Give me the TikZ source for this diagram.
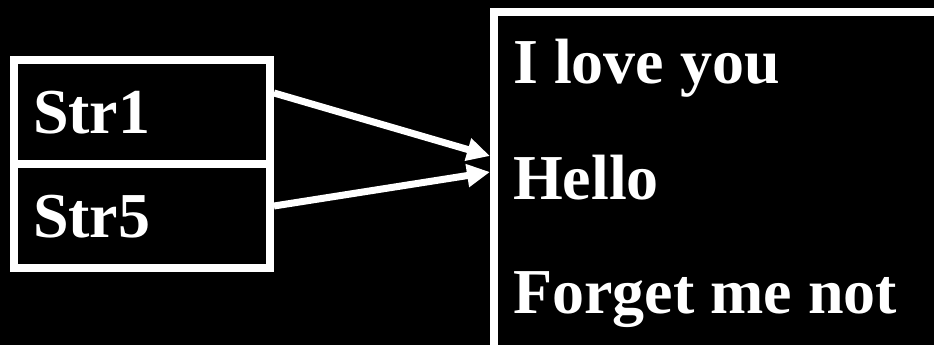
\documentclass[tikz,border=0pt]{standalone}
\usepackage{fontspec}
\setmainfont{Liberation Serif}
\usetikzlibrary{arrows.meta,positioning,calc}
\tikzset{
  box/.style={draw=white, line width=8pt, outer sep=4pt, fill=black, text=white, font=\fontsize{64}{76}\selectfont\bfseries},
  strbox/.style={box, minimum width=256pt, minimum height=103.5pt, text width=218pt, inner xsep=19pt, text height=43pt, text depth=0pt, align=left},
  txt/.style={text=white, inner sep=0pt, anchor=base west, font=\fontsize{64}{76}\selectfont\bfseries},
  arrow/.style={-{Triangle[length=23pt,width=22pt]}, line width=7pt, draw=white}
}

\begin{document}
\begin{tikzpicture}[x=1pt,y=-1pt]
\useasboundingbox (0,0) rectangle (934,345);
\fill[black] (0,0) rectangle (934,345);
\clip (0,0) rectangle (934,345);
% pointer cells
\node[strbox] (s1) at (142,111.75) {Str1};
\node[strbox] (s5) at (142,215.75) {Str5};
% string pool
\node[box, minimum width=600pt, minimum height=500pt, anchor=north west] (strs) at (490,8) {};
\node[txt] (t1) at (513,84) {I love you};
\node[txt] (t2) at (513,199) {Hello};
\node[txt] (t3) at (513,313) {Forget me not};
\draw[arrow] ([yshift=18.75pt]s1.east) -- ([yshift=-148pt]strs.north west);
\draw[arrow] ([yshift=9.75pt]s5.east) -- ([yshift=-164pt]strs.north west);
\end{tikzpicture}
\end{document}
